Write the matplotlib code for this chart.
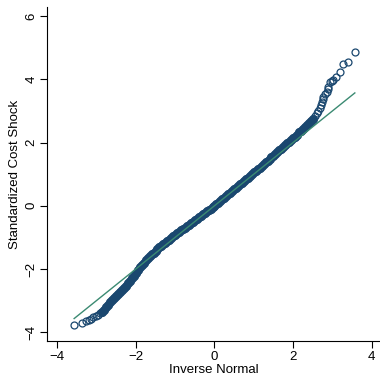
import numpy as np
import matplotlib.pyplot as plt

plt.rcParams['font.family'] = ['Liberation Sans', 'DejaVu Sans']

# quantile pairs (inverse normal, standardized shock)
inv_normal = [
    -3.57, -3.38, -3.27, -3.20, -3.14, -3.08, -3.02, -2.96, -2.90, -2.85,
    -2.80, -2.75, -2.70, -2.66, -2.60, -2.55, -2.50, -2.45,
    -2.40, -2.35, -2.30, -2.25, -2.20, -2.15, -2.10, -2.05, -2.00, -1.95,
    -1.90, -1.85, -1.80, -1.75, -1.70, -1.65, -1.60, -1.55, -1.50, -1.45,
    -1.40, -1.35, -1.30, -1.25, -1.20, -1.15, -1.10, -1.05, -1.00, -0.95,
    -0.90, -0.85, -0.80, -0.75, -0.70, -0.65, -0.60, -0.55, -0.50, -0.45,
    -0.40, -0.35, -0.30, -0.25, -0.20, -0.15, -0.10, -0.05, 0.00, 0.05,
    0.10, 0.15, 0.20, 0.25, 0.30, 0.35, 0.40, 0.45, 0.50, 0.55,
    0.60, 0.65, 0.70, 0.75, 0.80, 0.85, 0.90, 0.95, 1.00, 1.05,
    1.10, 1.15, 1.20, 1.25, 1.30, 1.35, 1.40, 1.45, 1.50, 1.55,
    1.60, 1.65, 1.70, 1.75, 1.80, 1.85, 1.90, 1.95, 2.00, 2.05,
    2.10, 2.15, 2.20, 2.25, 2.30, 2.35, 2.40,
    2.45, 2.50, 2.55, 2.60, 2.64, 2.68, 2.71, 2.73, 2.75, 2.77,
    2.81, 2.85, 2.88, 2.90, 2.94, 2.98, 3.02, 3.10, 3.19, 3.26, 3.39, 3.57,
]
cost_shock = [
    -3.78, -3.70, -3.65, -3.61, -3.57, -3.53, -3.49, -3.45, -3.40, -3.36,
    -3.30, -3.22, -3.14, -3.06, -2.99, -2.92, -2.87, -2.80,
    -2.74, -2.67, -2.60, -2.53, -2.45, -2.38, -2.30, -2.21, -2.12, -2.03,
    -1.95, -1.87, -1.80, -1.72, -1.65, -1.59, -1.53, -1.48, -1.42, -1.37,
    -1.32, -1.27, -1.22, -1.17, -1.12, -1.07, -1.02, -0.97, -0.92, -0.87,
    -0.83, -0.78, -0.73, -0.69, -0.64, -0.60, -0.55, -0.50, -0.45, -0.41,
    -0.36, -0.32, -0.27, -0.23, -0.18, -0.14, -0.09, -0.05, 0.00, 0.05,
    0.10, 0.15, 0.20, 0.26, 0.31, 0.36, 0.41, 0.47, 0.52, 0.57,
    0.63, 0.68, 0.73, 0.79, 0.84, 0.89, 0.95, 1.00, 1.06, 1.11,
    1.16, 1.21, 1.27, 1.32, 1.37, 1.42, 1.48, 1.53, 1.58, 1.64,
    1.69, 1.75, 1.80, 1.86, 1.91, 1.97, 2.02, 2.08, 2.13, 2.19,
    2.25, 2.32, 2.38, 2.44, 2.50, 2.56, 2.62,
    2.68, 2.75, 2.83, 2.92, 3.00, 3.08, 3.18, 3.29, 3.37, 3.45,
    3.53, 3.61, 3.69, 3.77, 3.92, 3.95, 3.98, 4.08, 4.22, 4.47, 4.56, 4.87,
]

xticks = [-4, -2, 0, 2, 4]
yticks = [-4, -2, 0, 2, 4, 6]

navy = '#1a476f'
green = '#3b8a72'

x = np.array(inv_normal)
y = np.array(cost_shock)
core = (x >= -2.85) & (x <= 2.5)

fig = plt.figure(figsize=(3.8, 3.77), dpi=100)
ax = fig.add_axes([0.1237, 0.0955, 0.8763, 0.886])

# sparse tails: hollow circles; dense middle: overlapping circles merge into a band
ax.plot(x, y, 'o', ms=5.0, mfc='none', mec=navy, mew=0.9, zorder=2)
ax.plot(x[core], y[core], 'o', ms=6.0, mfc=navy, mec=navy, mew=0.5, zorder=2)
ends = [x.min(), x.max()]
ax.plot(ends, ends, color=green, lw=1.0, zorder=3)

ax.set_xlim(-4.26, 4.21)
ax.set_ylim(-4.28, 6.29)
ax.set_xticks(xticks)
ax.set_yticks(yticks)
ax.set_xticklabels([f'{t}'.replace('-', '\u2212') for t in xticks])
ax.set_yticklabels([f'{t}'.replace('-', '\u2212') for t in yticks],
                   rotation=90, va='center')
ax.tick_params(direction='out', length=5, width=0.8, labelsize=9.5, pad=2)
ax.spines['top'].set_visible(False)
ax.spines['right'].set_visible(False)
ax.spines['left'].set_linewidth(0.8)
ax.spines['bottom'].set_linewidth(0.8)

ax.set_xlabel('Inverse Normal', fontsize=9.5, labelpad=1)
ax.set_ylabel('Standardized Cost Shock', fontsize=9.5, labelpad=3)

fig.savefig('out.png', dpi=100)
